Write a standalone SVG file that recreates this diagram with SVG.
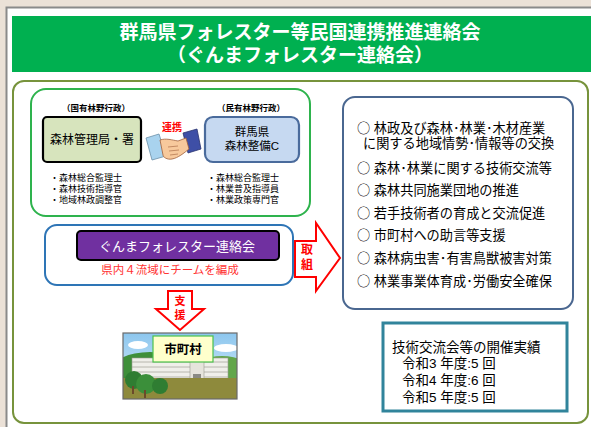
<svg xmlns="http://www.w3.org/2000/svg" width="591" height="427" viewBox="0 0 591 427">
  <defs>
    <style>
      .jp { font-family: "Liberation Sans", "Noto Sans CJK JP", sans-serif; }
      .cjk { font-family: "Noto Sans CJK JP", sans-serif; }
      .title { font-size: 19px; font-weight: bold; fill: #ffffff; text-anchor: middle; }
      .hdr { font-size: 8.5px; font-weight: bold; fill: #000; text-anchor: middle; }
      .bul { font-size: 9px; fill: #000; }
      .red { fill: #ff0000; font-weight: bold; text-anchor: middle; }
      .item { font-size: 13.2px; fill: #000; }
      .stat { font-size: 13.5px; fill: #000; }
    </style>
    <linearGradient id="sky" x1="0" y1="0" x2="0" y2="1">
      <stop offset="0" stop-color="#8cc6ee"/>
      <stop offset="1" stop-color="#e4f3fb"/>
    </linearGradient>
    <clipPath id="picClip">
      <rect x="123" y="333" width="114" height="66"/>
    </clipPath>
  </defs>

  <!-- page background and frame -->
  <rect x="0" y="0" width="591" height="427" fill="#ebe1d7"/>
  <rect x="7" y="7" width="584" height="420" fill="#ffffff"/>
  <path d="M6.5,427 V7.5 H591" fill="none" stroke="#8a8a8a" stroke-width="2"/>

  <!-- title band -->
  <g id="title">
    <rect x="12" y="16" width="579" height="56" fill="#00b050"/>
    <text class="jp title" x="300" y="39">群馬県フォレスター等民国連携推進連絡会</text>
    <text class="jp title" x="300" y="62">（ぐんまフォレスター連絡会）</text>
  </g>

  <!-- outer content frame -->
  <rect x="13" y="81" width="575" height="342" rx="11" fill="#ffffff" stroke="#77933c" stroke-width="2"/>

  <!-- national / prefectural cooperation -->
  <g id="cooperation">
    <rect x="31" y="89" width="279" height="127" rx="15" fill="#ffffff" stroke="#2eb34d" stroke-width="2"/>
    <text class="jp hdr" x="96" y="111">（国有林野行政）</text>
    <text class="jp hdr" x="251" y="111">（民有林野行政）</text>
  </g>

  <g id="national">
    <rect x="43" y="117" width="98" height="45" rx="4" fill="#d7e4bd" stroke="#000" stroke-width="2.2"/>
    <text class="jp" x="92" y="144" font-size="12" text-anchor="middle">森林管理局・署</text>
    <text class="jp bul" x="50" y="181">・森林総合監理士</text>
    <text class="jp bul" x="50" y="192">・森林技術指導官</text>
    <text class="jp bul" x="50" y="203">・地域林政調整官</text>
  </g>

  <g id="prefecture">
    <rect x="205" y="117" width="94" height="45" rx="8" fill="#c6d9f1" stroke="#4a6b9c" stroke-width="2.2"/>
    <text class="jp" x="252" y="136" font-size="11.5" text-anchor="middle">群馬県</text>
    <text class="jp" x="252" y="150" font-size="11.5" text-anchor="middle">森林整備C</text>
    <text class="jp bul" x="207" y="181">・森林総合監理士</text>
    <text class="jp bul" x="207" y="192">・林業普及指導員</text>
    <text class="jp bul" x="207" y="203">・林業政策専門官</text>
  </g>

  <!-- handshake -->
  <g id="handshake">
    <text class="jp red" x="172" y="131" font-size="10">連携</text>
    <path d="M146,138 L159,134 L166,156 L152,160 Z" fill="#a9d3ee" stroke="#6b8fa8" stroke-width="0.8"/>
    <path d="M183,133 L197,129 L201,149 L188,153 Z" fill="#3e4fa6" stroke="#2a3470" stroke-width="0.8"/>
    <path d="M160,140 C166,138 172,140 178,141 L186,138 L189,149 C184,153 178,158 172,159 C167,160 163,157 163,155 Z" fill="#f7c99c" stroke="#a0603a" stroke-width="0.8"/>
    <path d="M168,147 L178,146 M169,151 L179,150 M170,155 L178,154" stroke="#a0603a" stroke-width="0.6" fill="none"/>
  </g>

  <!-- forester liaison council -->
  <g id="council">
    <rect x="45" y="225" width="248" height="60" rx="12" fill="#ffffff" stroke="#2e75b6" stroke-width="2"/>
    <rect x="77" y="231" width="202" height="29" rx="4" fill="#7030a0" stroke="#000" stroke-width="2"/>
    <text class="jp" x="177" y="250.5" font-size="13" fill="#ffffff" text-anchor="middle">ぐんまフォレスター連絡会</text>
    <text class="jp" x="170" y="274" font-size="11.5" fill="#ff3333" text-anchor="middle">県内４流域にチームを編成</text>
  </g>

  <!-- arrows -->
  <g id="connectors">
    <path d="M295,241 L316,241 L316,223 L340,258 L316,291 L316,277 L295,277 Z" fill="#ffffff" stroke="#ff0000" stroke-width="2" stroke-linejoin="miter"/>
    <text class="jp red" x="307" y="254" font-size="12">取</text>
    <text class="jp red" x="307" y="269" font-size="12">組</text>
    <path d="M168,291 L192,291 L192,309 L204,309 L180,330 L156,309 L168,309 Z" fill="#ffffff" stroke="#ff0000" stroke-width="2"/>
    <text class="jp red" x="180" y="305" font-size="11">支</text>
    <text class="jp red" x="180" y="319" font-size="11">援</text>
  </g>

  <!-- municipality picture -->
  <g id="municipality">
    <g clip-path="url(#picClip)">
      <rect x="123" y="333" width="114" height="66" fill="url(#sky)"/>
      <ellipse cx="138" cy="345" rx="10" ry="4" fill="#ffffff"/>
      <ellipse cx="226" cy="348" rx="12" ry="4" fill="#ffffff"/>
      <ellipse cx="150" cy="372" rx="40" ry="20" fill="#3f8f3a"/>
      <ellipse cx="222" cy="372" rx="30" ry="16" fill="#62a64a"/>
      <rect x="132" y="358" width="96" height="22" fill="#f0efea" stroke="#9a9a92" stroke-width="0.6"/>
      <path d="M132,362 H228 M132,367 H228 M132,372 H228 M132,377 H228" stroke="#a8a89e" stroke-width="0.8"/>
      <rect x="190" y="356" width="14" height="26" fill="#e6e4dc" stroke="#9a9a92" stroke-width="0.6"/>
      <rect x="193" y="374" width="8" height="8" fill="#8a8a84"/>
      <rect x="123" y="378" width="114" height="21" fill="#8e8a3c"/>
      <circle cx="134" cy="380" r="9" fill="#2f7d32"/>
      <circle cx="146" cy="384" r="10" fill="#3b8f3a"/>
      <circle cx="160" cy="386" r="8" fill="#2f7d32"/>
      <rect x="144" y="390" width="2" height="8" fill="#6b4a2a"/>
      <rect x="132" y="386" width="2" height="8" fill="#6b4a2a"/>
    </g>
    <rect x="123" y="333" width="114" height="66" fill="none" stroke="#6a6a6a" stroke-width="1.2"/>
    <rect x="153" y="336" width="60" height="26" fill="#ffffcc" stroke="#4cc24c" stroke-width="1.2"/>
    <text class="jp" x="183" y="354" font-size="12.5" font-weight="bold" text-anchor="middle">市町村</text>
  </g>

  <!-- activities list -->
  <g id="activities">
    <rect x="343" y="97" width="230" height="212" rx="12" fill="#ffffff" stroke="#4a6790" stroke-width="2"/>
    <text class="jp item" x="357" y="133"><tspan class="cjk">○</tspan> 林政及び森林･林業･木材産業</text>
    <text class="jp item" x="363" y="148">に関する地域情勢･情報等の交換</text>
    <text class="jp item" x="357" y="173"><tspan class="cjk">○</tspan> 森林･林業に関する技術交流等</text>
    <text class="jp item" x="357" y="195"><tspan class="cjk">○</tspan> 森林共同施業団地の推進</text>
    <text class="jp item" x="357" y="218"><tspan class="cjk">○</tspan> 若手技術者の育成と交流促進</text>
    <text class="jp item" x="357" y="240"><tspan class="cjk">○</tspan> 市町村への助言等支援</text>
    <text class="jp item" x="357" y="263"><tspan class="cjk">○</tspan> 森林病虫害･有害鳥獣被害対策</text>
    <text class="jp item" x="357" y="286"><tspan class="cjk">○</tspan> 林業事業体育成･労働安全確保</text>
  </g>

  <!-- exchange meeting record -->
  <g id="record">
    <rect x="383" y="323" width="184" height="88" fill="#ffffff" stroke="#31849b" stroke-width="3"/>
    <text class="jp stat" x="392" y="352">技術交流会等の開催実績</text>
    <text class="jp stat" x="402" y="368">令和3 年度:5 回</text>
    <text class="jp stat" x="402" y="385">令和4 年度:6 回</text>
    <text class="jp stat" x="402" y="402">令和5 年度:5 回</text>
  </g>
</svg>
